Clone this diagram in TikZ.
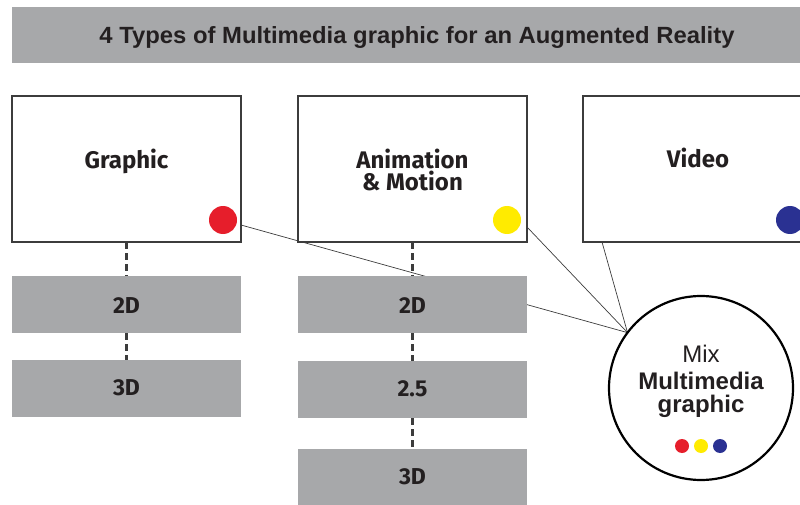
\documentclass[tikz,border=0pt]{standalone}
\usepackage{fontspec}
\setmainfont{Liberation Sans}
\newfontfamily\boxfont{Fira Sans}
\usetikzlibrary{backgrounds}
\definecolor{bargray}{HTML}{A7A8AA}
\definecolor{ink}{HTML}{231F20}
\definecolor{frame}{HTML}{3C3C3C}
\definecolor{dotred}{HTML}{E61E2B}
\definecolor{dotyellow}{HTML}{FFEB00}
\definecolor{dotblue}{HTML}{2A3192}
\tikzset{
  typebox/.style={draw=frame, line width=1.4pt, fill=white, minimum width=229pt,
    minimum height=146pt, anchor=north west, inner sep=0pt, outer sep=0pt},
  levelbox/.style={fill=bargray, minimum width=229pt, minimum height=57pt,
    anchor=north west, inner sep=0pt, outer sep=0pt},
  typetext/.style={anchor=base, text=ink, inner sep=0pt, font=\boxfont\bfseries\fontsize{24}{24}\selectfont},
  leveltext/.style={anchor=base, text=ink, inner sep=0pt, font=\boxfont\bfseries\fontsize{23}{23}\selectfont},
  mixtext/.style={anchor=base, text=ink, inner sep=0pt},
  dashlink/.style={draw=frame, line width=2.4pt, dash pattern=on 7pt off 4pt},
  mixlink/.style={draw=frame, line width=0.7pt},
  dot/.style={circle, inner sep=0pt, minimum size=#1},
}
\begin{document}
\begin{tikzpicture}[x=1pt,y=-1pt]
\useasboundingbox (0,0) rectangle (800,505);
\clip (0,0) rectangle (800,505);

% title bar
\node[fill=bargray, anchor=north west, minimum width=800pt, minimum height=56pt,
  inner sep=0pt] (titlebar) at (12,7) {};
\node[text=ink, inner sep=0pt] (titletext) at (417,37)
  {\resizebox{635pt}{17pt}{\bfseries 4 Types of Multimedia graphic for an Augmented Reality}};

% the three media types
\node[typebox] (graphic) at (12,96) {};
\node[typebox] (anim) at (298,96) {};
\node[typebox] (video) at (583,96) {};
\node[typetext] (graphiclbl) at (126.5,169) {Graphic};
\node[typetext] (animlbl) at (412.5,169) {Animation};
\node[typetext] (motionlbl) at (412.5,191) {\& Motion};
\node[typetext] (videolbl) at (698,168) {Video};
\node[dot=28pt, fill=dotred] (reddot) at (223,220) {};
\node[dot=28pt, fill=dotyellow] (yellowdot) at (507,220) {};
\node[dot=28pt, fill=dotblue] (bluedot) at (790,220) {};

% levels of each type
\node[levelbox] (g2d) at (12,276) {};
\node[levelbox] (g3d) at (12,360) {};
\node[levelbox] (a2d) at (298,276) {};
\node[levelbox] (a25) at (298,361) {};
\node[levelbox] (a3d) at (298,449) {};
\node[leveltext] at (126.5,313) {2D};
\node[leveltext] at (126.5,395) {3D};
\node[leveltext] at (412.5,313) {2D};
\node[leveltext] at (412.5,396) {2.5};
\node[leveltext] at (412.5,484) {3D};

\draw[dashlink] (graphic.south) -- (g2d.north);
\draw[dashlink] (g2d.south) -- (g3d.north);
\draw[dashlink] (anim.south) -- (a2d.north);
\draw[dashlink] (a2d.south) -- (a25.north);
\draw[dashlink] (a25.south) -- (a3d.north);

% the mix circle
\node[circle, draw=black, line width=2.2pt, fill=white, minimum size=184pt,
  inner sep=0pt, outer sep=0pt] (mix) at (701,388) {};
\node[mixtext, font=\fontsize{24}{24}\selectfont] (mixlbl) at (701,362) {Mix};
\node[mixtext, font=\bfseries\fontsize{24}{24}\selectfont] (mmlbl) at (701,389) {Multimedia};
\node[mixtext, font=\bfseries\fontsize{24}{24}\selectfont] (gfxlbl) at (701,412) {graphic};
\node[dot=14pt, fill=dotred] (mixred) at (682,446) {};
\node[dot=14pt, fill=dotyellow] (mixyellow) at (701,446) {};
\node[dot=14pt, fill=dotblue] (mixblue) at (720,446) {};

% links from each type into the mix
\coordinate (gout) at ([yshift=17pt]graphic.south east);
\coordinate (aout) at ([yshift=15pt]anim.south east);
\coordinate (vout) at ([xshift=19pt]video.south west);
\begin{pgfonlayer}{background}
\draw[mixlink] (gout) -- (mix.143);
\draw[mixlink] (aout) -- (mix.143);
\draw[mixlink] (vout) -- (mix.143);
\end{pgfonlayer}
\end{tikzpicture}
\end{document}
